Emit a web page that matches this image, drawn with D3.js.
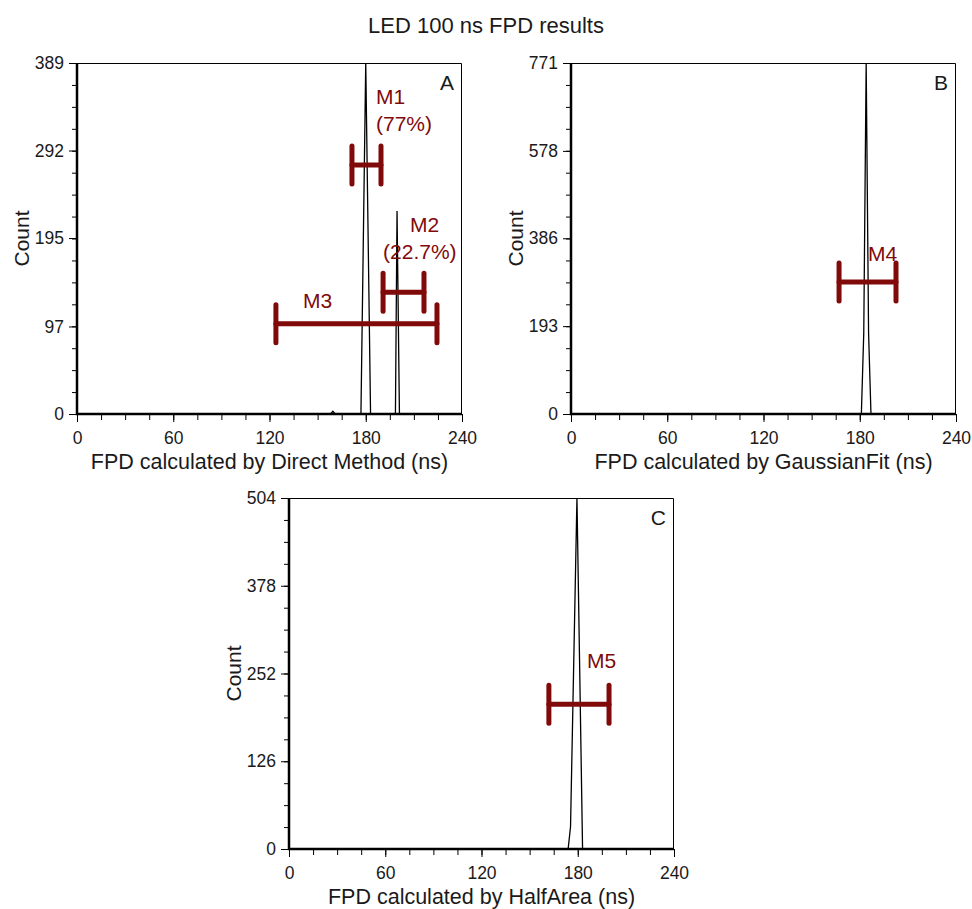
<!DOCTYPE html>
<html>
<head>
<meta charset="utf-8">
<script src="https://cdn.jsdelivr.net/npm/d3@7"></script>
<style>
  body { margin: 0; background: #fff; }
  svg { display: block; font-family: "Liberation Sans", Arial, sans-serif; }
</style>
</head>
<body>
<div id="chart"></div>
<script>
// histogram traces (FPD in ns, count)
const fpdA = [0, 158, 159.5, 161, 177, 180, 183, 198.5, 199.5, 201, 240];
const countA = [0, 0, 3, 0, 0, 389, 0, 0, 225, 0, 0];
const fpdB = [0, 181, 182.5, 184, 185.5, 187, 240];
const countB = [0, 0, 178, 771, 178, 0, 0];
const fpdC = [0, 174, 175.5, 179.5, 183, 240];
const countC = [0, 0, 32, 504, 0, 0];

// y-axis major tick labels (last one is the axis maximum)
const yTicksA = [0, 97, 195, 292, 389];
const yTicksB = [0, 193, 386, 578, 771];
const yTicksC = [0, 126, 252, 378, 504];
const xTicks = [0, 60, 120, 180, 240];

// marker ranges (M1..M5)
const markerNames = ["M1", "M2", "M3", "M4", "M5"];
const markerLo = [171.4, 190.8, 124, 167.1, 162];
const markerHi = [189.5, 216.3, 224.4, 202.6, 199.5];
const markerCount = [276, 135, 100, 290, 208];
const markerPanel = ["A", "A", "A", "B", "C"];
const markerShare = ["(77%)", "(22.7%)", "", "", ""];

const xTitles = {
  A: "FPD calculated by Direct Method (ns)",
  B: "FPD calculated by GaussianFit (ns)",
  C: "FPD calculated by HalfArea (ns)",
};

const width = 972;
const height = 909;
const red = "#800a0a";
const ink = "#1a1a1a";

const svg = d3.select("#chart").append("svg").attr("width", width).attr("height", height);

svg.append("text")
  .attr("x", 486)
  .attr("y", 33)
  .attr("text-anchor", "middle")
  .attr("font-size", 22)
  .attr("fill", ink)
  .text("LED 100 ns FPD results");

const panels = [
  { key: "A", left: 77, top: 63, fpd: fpdA, count: countA, yTicks: yTicksA },
  { key: "B", left: 571, top: 63, fpd: fpdB, count: countB, yTicks: yTicksB },
  { key: "C", left: 289, top: 498, fpd: fpdC, count: countC, yTicks: yTicksC },
];
const pw = 385;
const ph = 351;

const styleAxis = (a) => {
  a.select(".domain").remove();
  a.attr("font-size", 17.5).attr("font-family", "Liberation Sans, Arial, sans-serif");
  a.selectAll("text").attr("fill", ink);
};

panels.forEach((p) => {
  const g = svg.append("g").attr("transform", `translate(${p.left},${p.top})`);
  const yMax = p.yTicks[p.yTicks.length - 1];
  const x = d3.scaleLinear().domain([0, 240]).range([0, pw]);
  const y = d3.scaleLinear().domain([0, yMax]).range([ph, 0]);

  // thin frame top/right
  g.append("path")
    .attr("d", `M0,0.5H${pw - 0.5}V${ph}`)
    .attr("fill", "none")
    .attr("stroke", "#000")
    .attr("stroke-width", 1);

  // minor ticks
  const yMinor = d3.range(0, 17).map((i) => (yMax * i) / 16);
  const xMinor = d3.range(0, 241, 15);
  g.append("g")
    .call(d3.axisLeft(y).tickValues(yMinor).tickSize(5).tickFormat(""))
    .call(styleAxis);
  g.append("g")
    .attr("transform", `translate(0,${ph})`)
    .call(d3.axisBottom(x).tickValues(xMinor).tickSize(6).tickFormat(""))
    .call(styleAxis);

  // major ticks + labels
  g.append("g")
    .call(d3.axisLeft(y).tickValues(p.yTicks).tickSize(8).tickPadding(5).tickFormat(d3.format("d")))
    .call(styleAxis);
  g.append("g")
    .attr("transform", `translate(0,${ph})`)
    .call(d3.axisBottom(x).tickValues(xTicks).tickSize(8).tickPadding(10))
    .call(styleAxis);

  // thick left/bottom axis lines
  g.append("path")
    .attr("d", `M0,0V${ph}H${pw}`)
    .attr("fill", "none")
    .attr("stroke", "#000")
    .attr("stroke-width", 2.5);

  // histogram trace
  const line = d3.line().x((d) => x(d[0])).y((d) => y(d[1]));
  g.append("path")
    .datum(d3.zip(p.fpd, p.count))
    .attr("d", line)
    .attr("fill", "none")
    .attr("stroke", "#000")
    .attr("stroke-width", 1.3);

  // markers
  markerNames.forEach((name, i) => {
    if (markerPanel[i] !== p.key) return;
    const x0 = x(markerLo[i]);
    const x1 = x(markerHi[i]);
    const yy = y(markerCount[i]);
    const m = g.append("g").attr("stroke", red).attr("stroke-width", 5).attr("stroke-linecap", "round");
    m.append("line").attr("x1", x0).attr("x2", x1).attr("y1", yy).attr("y2", yy);
    m.append("line").attr("x1", x0).attr("x2", x0).attr("y1", yy - 19).attr("y2", yy + 19);
    m.append("line").attr("x1", x1).attr("x2", x1).attr("y1", yy - 19).attr("y2", yy + 19);
  });

  // panel letter
  g.append("text")
    .attr("x", pw - 8)
    .attr("y", 27)
    .attr("text-anchor", "end")
    .attr("font-size", 21)
    .attr("fill", ink)
    .text(p.key);

  // axis titles
  g.append("text")
    .attr("x", pw / 2)
    .attr("y", ph + 55)
    .attr("text-anchor", "middle")
    .attr("font-size", 21.5)
    .attr("fill", ink)
    .text(xTitles[p.key]);
  g.append("text")
    .attr("transform", `translate(-48,${ph / 2}) rotate(-90)`)
    .attr("text-anchor", "middle")
    .attr("font-size", 21)
    .attr("fill", ink)
    .text("Count");

  // marker labels
  const lab = (txt, xv, yv) =>
    g.append("text")
      .attr("x", x(xv))
      .attr("y", y(yv))
      .attr("font-size", 21)
      .attr("fill", red)
      .text(txt);
  if (p.key === "A") {
    lab(markerNames[0], 186.4, 343.6);
    lab(markerShare[0], 186.4, 313.6);
    lab(markerNames[1], 207.6, 201.7);
    lab(markerShare[1], 190.8, 171.8);
    lab(markerNames[2], 140.9, 117.5);
  } else if (p.key === "B") {
    lab(markerNames[3], 185.2, 336);
  } else {
    lab(markerNames[4], 185.8, 260);
  }
});
</script>
</body>
</html>
